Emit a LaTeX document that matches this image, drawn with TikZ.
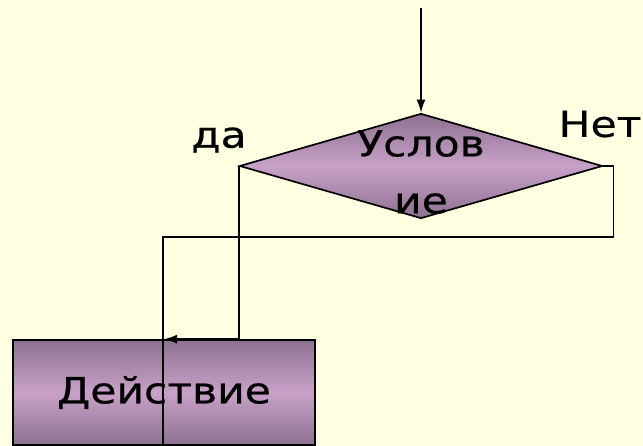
\documentclass[tikz,border=0pt]{standalone}
\usepackage{fontspec}
\setmainfont{DejaVu Sans}[FakeStretch=1.18,FakeBold=0.6]
\usetikzlibrary{shapes.geometric,arrows.meta}
\definecolor{paper}{HTML}{FFFFE2}
\definecolor{lilacdark}{HTML}{8D7190}
\definecolor{lilaclight}{HTML}{C8A1C8}
\begin{document}
\begin{tikzpicture}[x=1pt,y=-1pt,line width=1.7pt,
    shaded/.style={draw=black,top color=lilacdark,bottom color=lilacdark,middle color=lilaclight},
    decision/.style={shaded,diamond,inner sep=0pt,minimum width=363pt,minimum height=105pt},
    action/.style={shaded,rectangle,inner sep=0pt,minimum width=302pt,minimum height=105pt},
    txt/.style={font=\fontsize{36}{57}\selectfont,inner sep=0pt},
    tip/.style={-{Latex[length=13pt,width=9pt]}}]
      \fill[paper] (0,0) rectangle (643,446);
      \useasboundingbox (0,0) rectangle (643,446);
      \coordinate (in) at (421,8);
      \coordinate (loop) at (163,237);
      \coordinate (out) at (163,446);
      \node[decision] (cond) at (421,166) {};
      \node[action,txt] (act) at (164,392.5) {Действие};
      \node[txt,align=center] (condtext) at (421,172) {Услов\\ие};
      \node[txt] (yes) at (219,140) {да};
      \node[txt] (no) at (600,124) {Нет};
      \draw[tip] (in) -- (cond.north);
      \draw[tip] (cond.west) |- (act.north);
      \draw (cond.east) -- ++(10,0) |- (loop) -- (out);
    \end{tikzpicture}
\end{document}
